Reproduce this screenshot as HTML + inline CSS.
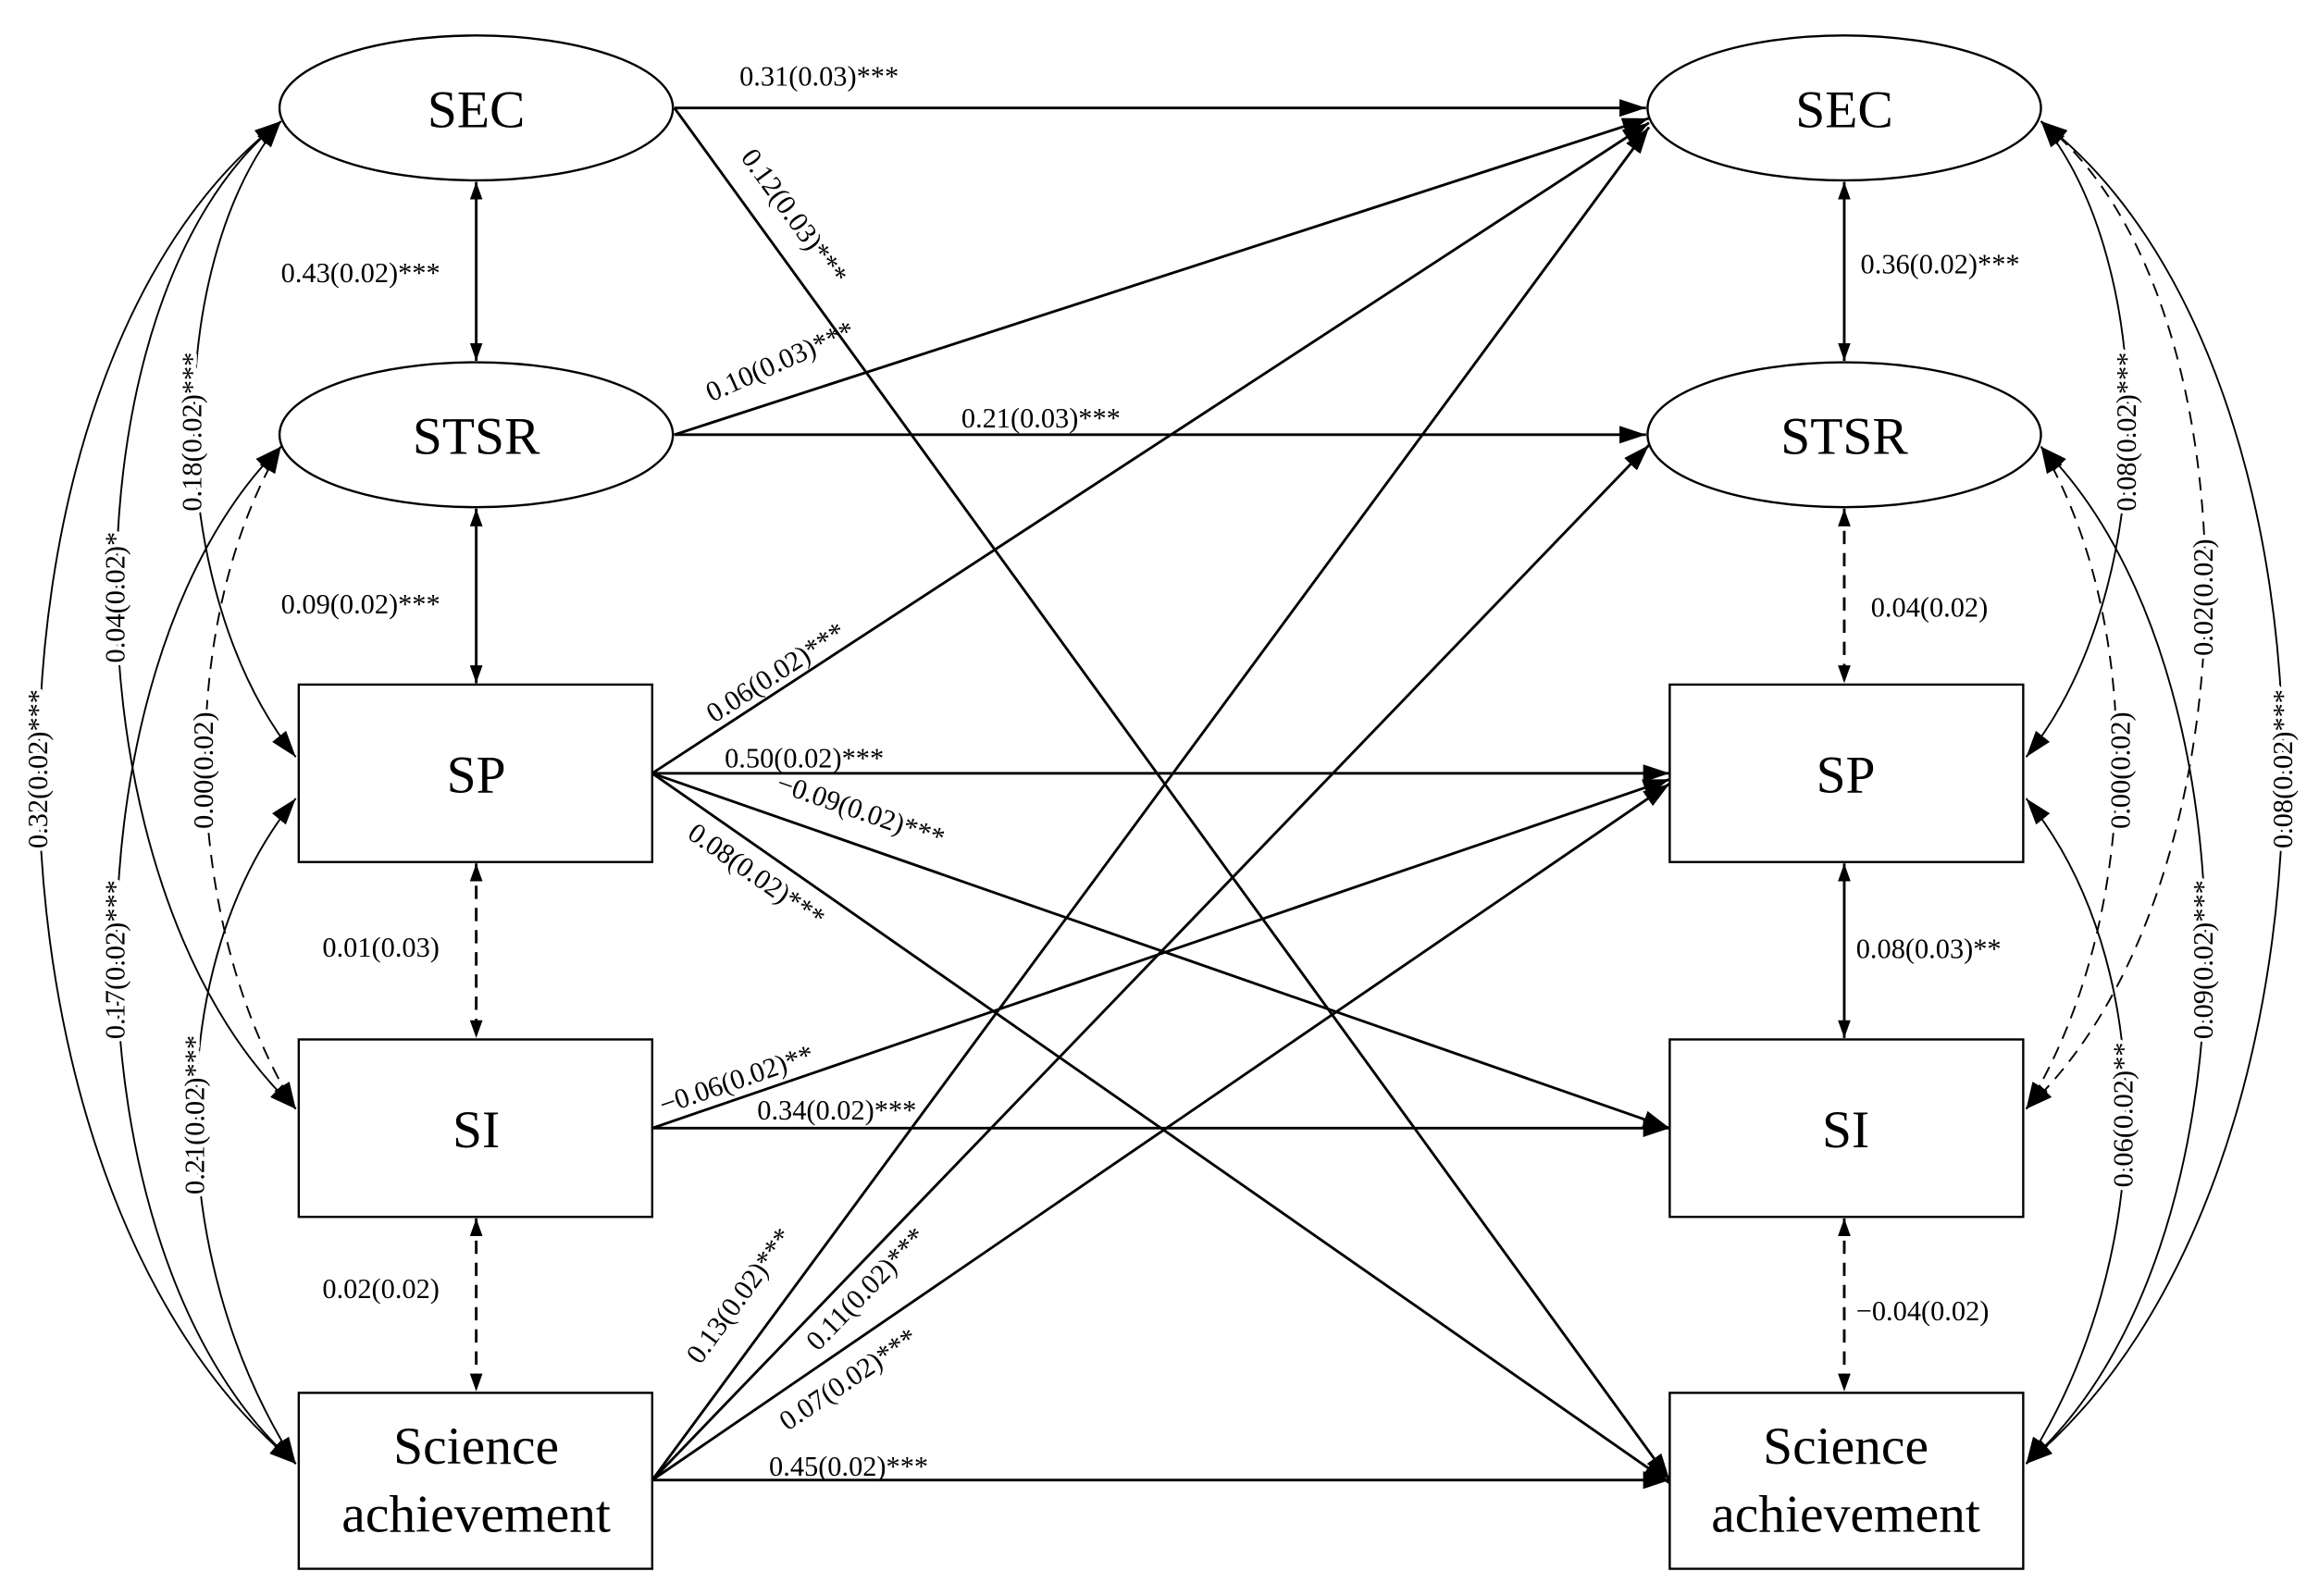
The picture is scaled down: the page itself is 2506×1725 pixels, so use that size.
<!DOCTYPE html>
<html><head><meta charset="utf-8"><style>
html,body{margin:0;padding:0;background:#fff;}
svg{display:block;}
text{font-family:"Liberation Serif",serif;fill:#000;}
.n{font-size:36px;text-anchor:middle;}
.l{font-size:19px;}
.c{font-size:19px;text-anchor:middle;paint-order:stroke;stroke:#fff;stroke-width:5px;}
.s{fill:none;stroke:#000;stroke-width:1.8;}
.cv{fill:none;stroke:#000;stroke-width:1.2;}
.d{stroke-dasharray:9 6;}
</style></head><body>
<svg width="2506" height="1725" viewBox="0 0 1568 1079.4" preserveAspectRatio="none" xmlns="http://www.w3.org/2000/svg">
<defs>
<marker id="a" viewBox="0 0 18 12" refX="18" refY="6" markerWidth="18" markerHeight="12" markerUnits="userSpaceOnUse" orient="auto-start-reverse"><path d="M0,0 L18,6 L0,12 z" fill="#000"/></marker>
<marker id="b" viewBox="0 0 14 10" refX="14" refY="5" markerWidth="12" markerHeight="10" markerUnits="userSpaceOnUse" orient="auto-start-reverse"><path d="M0,0 L14,5 L0,10 z" fill="#000"/></marker>
</defs>
<rect width="1568" height="1080" fill="#fff"/>

<g fill="#fff" stroke="#000" stroke-width="1.5">
<ellipse cx="322" cy="73" rx="133" ry="49"/>
<ellipse cx="322" cy="294" rx="133" ry="49"/>
<ellipse cx="1247" cy="73" rx="133" ry="49"/>
<ellipse cx="1247" cy="294" rx="133" ry="49"/>
<rect x="202" y="463" width="239" height="120"/>
<rect x="202" y="703" width="239" height="120"/>
<rect x="202" y="942" width="239" height="119"/>
<rect x="1129" y="463" width="239" height="120"/>
<rect x="1129" y="703" width="239" height="120"/>
<rect x="1129" y="942" width="239" height="119"/>
</g>

<g class="s" marker-end="url(#a)">
<line x1="456" y1="73" x2="1113" y2="73"/>
<line x1="456" y1="73" x2="1129" y2="1001"/>
<line x1="456" y1="294" x2="1115" y2="80"/>
<line x1="456" y1="294" x2="1113" y2="294"/>
<line x1="441" y1="523" x2="1115" y2="83"/>
<line x1="441" y1="523" x2="1129" y2="523"/>
<line x1="441" y1="523" x2="1129" y2="763"/>
<line x1="441" y1="523" x2="1129" y2="1003"/>
<line x1="441" y1="763" x2="1129" y2="527"/>
<line x1="441" y1="763" x2="1129" y2="763"/>
<line x1="441" y1="1001" x2="1115" y2="86"/>
<line x1="441" y1="1001" x2="1115" y2="301"/>
<line x1="441" y1="1001" x2="1129" y2="530"/>
<line x1="441" y1="1001" x2="1129" y2="1001"/>
</g>

<g class="s" marker-start="url(#b)" marker-end="url(#b)">
<line x1="322" y1="123" x2="322" y2="244"/>
<line x1="322" y1="344" x2="322" y2="462"/>
<line x1="322" y1="584" x2="322" y2="702" class="s d"/>
<line x1="322" y1="824" x2="322" y2="941" class="s d"/>
<line x1="1247" y1="123" x2="1247" y2="244"/>
<line x1="1247" y1="344" x2="1247" y2="462" class="s d"/>
<line x1="1247" y1="584" x2="1247" y2="702"/>
<line x1="1247" y1="824" x2="1247" y2="941" class="s d"/>
</g>

<g class="cv" marker-start="url(#a)" marker-end="url(#a)">
<path d="M190,82 C-30,250 -30,800 200,990"/>
<path d="M190,82 C40,200 40,600 200,750"/>
<path d="M190,82 C110,180 110,400 200,512"/>
<path class="cv d" d="M190,302 C120,420 120,620 200,750"/>
<path d="M190,302 C40,450 40,850 200,990"/>
<path d="M200,540 C110,650 110,850 200,990"/>
</g>
<g class="cv" marker-start="url(#a)" marker-end="url(#a)">
<path d="M1380,82 C1600,250 1600,800 1370,990"/>
<path class="cv d" d="M1380,82 C1530,200 1530,600 1370,750"/>
<path d="M1380,82 C1460,180 1460,400 1370,512"/>
<path class="cv d" d="M1380,302 C1450,420 1450,620 1370,750"/>
<path d="M1380,302 C1530,450 1530,850 1370,990"/>
<path d="M1370,540 C1460,650 1460,850 1370,990"/>
</g>

<g class="c">
<text transform="translate(32,520) rotate(-90)">0.32(0.02)***</text>
<text transform="translate(84,404) rotate(-90)">0.04(0.02)*</text>
<text transform="translate(136,292) rotate(-90)">0.18(0.02)***</text>
<text transform="translate(144,521) rotate(-90)">0.00(0.02)</text>
<text transform="translate(84,649) rotate(-90)">0.17(0.02)***</text>
<text transform="translate(138,754) rotate(-90)">0.21(0.02)***</text>
<text transform="translate(1550,520) rotate(-90)">0.08(0.02)***</text>
<text transform="translate(1496,404) rotate(-90)">0.02(0.02)</text>
<text transform="translate(1444,292) rotate(-90)">0.08(0.02)***</text>
<text transform="translate(1440,521) rotate(-90)">0.00(0.02)</text>
<text transform="translate(1496,649) rotate(-90)">0.09(0.02)***</text>
<text transform="translate(1442,754) rotate(-90)">0.06(0.02)**</text>
</g>

<g class="l">
<text x="500" y="58">0.31(0.03)***</text>
<text x="650" y="289">0.21(0.03)***</text>
<text x="490" y="519">0.50(0.02)***</text>
<text x="512" y="757">0.34(0.02)***</text>
<text x="520" y="998">0.45(0.02)***</text>
<text x="190" y="191">0.43(0.02)***</text>
<text x="190" y="415">0.09(0.02)***</text>
<text x="218" y="647">0.01(0.03)</text>
<text x="218" y="878">0.02(0.02)</text>
<text x="1258" y="185">0.36(0.02)***</text>
<text x="1265" y="417">0.04(0.02)</text>
<text x="1255" y="648">0.08(0.03)**</text>
<text x="1255" y="893">−0.04(0.02)</text>
</g>
<g class="l" text-anchor="middle">
<text transform="translate(532,150) rotate(54)">0.12(0.03)***</text>
<text transform="translate(530,250) rotate(-24)">0.10(0.03)***</text>
<text transform="translate(528,460) rotate(-33)">0.06(0.02)***</text>
<text transform="translate(580,554) rotate(19)">−0.09(0.02)***</text>
<text transform="translate(508,597) rotate(35)">0.08(0.02)***</text>
<text transform="translate(500,736) rotate(-19)">−0.06(0.02)**</text>
<text transform="translate(505,880) rotate(-54)">0.13(0.02)***</text>
<text transform="translate(590,876) rotate(-46)">0.11(0.02)***</text>
<text transform="translate(577,938) rotate(-34)">0.07(0.02)***</text>
</g>

<g class="n">
<text x="322" y="86">SEC</text>
<text x="322" y="307">STSR</text>
<text x="322" y="536">SP</text>
<text x="322" y="776">SI</text>
<text x="322" y="990">Science</text>
<text x="322" y="1036">achievement</text>
<text x="1247" y="86">SEC</text>
<text x="1247" y="307">STSR</text>
<text x="1248" y="536">SP</text>
<text x="1248" y="776">SI</text>
<text x="1248" y="990">Science</text>
<text x="1248" y="1036">achievement</text>
</g>
</svg>
</body></html>
